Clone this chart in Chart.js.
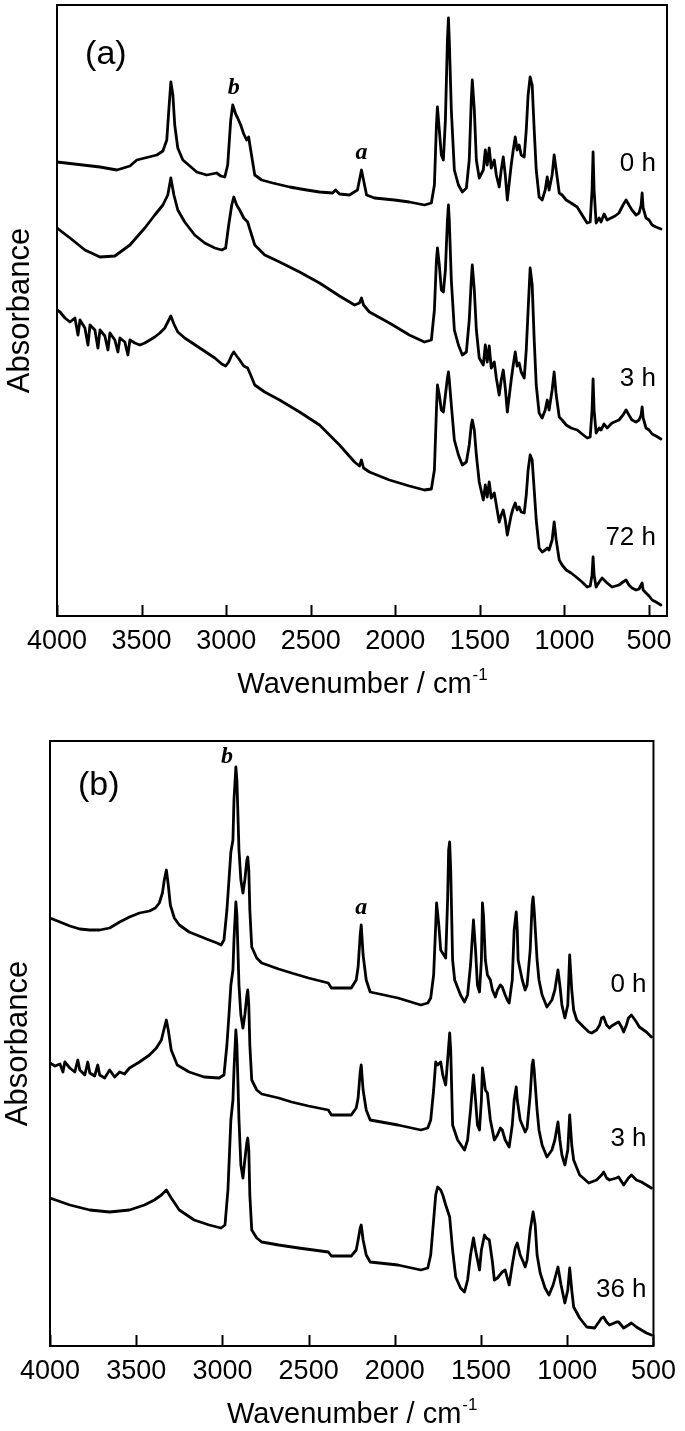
<!DOCTYPE html>
<html>
<head>
<meta charset="utf-8">
<script src="https://cdn.jsdelivr.net/npm/chart.js@4.4.1/dist/chart.umd.min.js"></script>
<style>
  html, body { margin: 0; padding: 0; background: #fff; }
  .panel { position: absolute; left: 0; width: 685px; }
  #wrapA { top: 0; height: 720px; }
  #wrapB { top: 720px; height: 711px; }
</style>
</head>
<body>
<div class="panel" id="wrapA"><canvas id="chartA" width="685" height="720"></canvas></div>
<div class="panel" id="wrapB"><canvas id="chartB" width="685" height="711"></canvas></div>
<script>
// FTIR spectra: [wavenumber (cm-1), absorbance (a.u., curves offset)]
// panel (a)
const a0h = [[4000,454],[3847,451],[3746,449],[3646,446],[3569,450],[3528,456],[3481,458],[3410,461],[3374,465],[3351,476],[3339,506],[3327,534],[3315,521],[3304,491],[3286,468],[3256,456],[3215,450],[3174,444],[3115,441],[3056,443],[3032,440],[3008,439],[2991,451],[2973,496],[2961,511],[2944,502],[2932,498],[2914,491],[2896,482],[2879,476],[2867,479],[2855,466],[2831,441],[2790,436],[2725,433],[2625,429],[2524,426],[2448,424],[2371,423],[2353,426],[2330,422],[2271,421],[2224,426],[2206,441],[2200,446],[2188,436],[2170,421],[2123,418],[2005,416],[1917,414],[1828,411],[1787,413],[1769,431],[1757,491],[1751,509],[1740,486],[1728,461],[1716,456],[1704,496],[1692,576],[1686,598],[1681,576],[1669,506],[1651,446],[1627,431],[1604,424],[1580,428],[1563,456],[1551,516],[1545,536],[1533,506],[1521,456],[1504,438],[1480,446],[1468,466],[1457,451],[1445,468],[1433,448],[1415,456],[1403,441],[1386,429],[1374,446],[1362,459],[1350,441],[1338,416],[1315,451],[1303,466],[1291,479],[1280,466],[1268,471],[1256,461],[1238,459],[1226,486],[1215,521],[1203,539],[1191,531],[1179,486],[1167,446],[1150,419],[1132,416],[1114,426],[1102,439],[1091,426],[1073,441],[1061,461],[1049,446],[1031,423],[1014,421],[990,416],[961,413],[925,409],[896,401],[866,393],[848,394],[837,426],[831,464],[825,426],[813,393],[795,398],[784,394],[766,402],[748,396],[725,398],[701,400],[678,403],[654,411],[636,416],[619,411],[601,406],[577,401],[559,403],[547,411],[541,423],[535,408],[518,398],[500,396],[482,391],[459,389],[430,387]];

const a3h = [[4000,388],[3923,378],[3835,366],[3746,359],[3658,360],[3569,371],[3481,388],[3422,401],[3374,411],[3345,421],[3327,438],[3309,421],[3286,406],[3245,394],[3186,381],[3127,373],[3067,368],[3026,366],[3003,368],[2985,391],[2967,411],[2955,419],[2938,411],[2920,406],[2896,398],[2873,394],[2855,384],[2831,371],[2772,361],[2684,354],[2566,344],[2448,333],[2330,320],[2241,311],[2212,313],[2200,318],[2188,311],[2153,304],[2035,293],[1917,281],[1828,274],[1787,276],[1769,306],[1757,356],[1751,368],[1740,351],[1728,326],[1716,324],[1704,346],[1692,396],[1686,411],[1681,396],[1669,336],[1651,286],[1627,271],[1604,261],[1580,264],[1563,296],[1551,336],[1545,351],[1533,326],[1521,286],[1504,258],[1480,251],[1468,271],[1457,254],[1445,270],[1433,248],[1415,254],[1403,238],[1386,221],[1374,236],[1362,246],[1350,228],[1338,204],[1315,236],[1303,251],[1291,264],[1280,250],[1268,253],[1256,244],[1238,238],[1226,266],[1215,306],[1203,348],[1191,331],[1179,276],[1167,231],[1150,203],[1132,198],[1114,206],[1102,216],[1091,206],[1073,226],[1061,244],[1049,221],[1031,199],[1014,196],[990,191],[961,188],[925,186],[896,182],[866,178],[848,179],[837,206],[831,237],[825,206],[813,183],[795,188],[784,186],[766,192],[748,188],[719,193],[678,196],[654,201],[636,206],[619,201],[601,196],[577,194],[559,196],[547,201],[541,209],[535,198],[518,188],[500,186],[482,182],[459,180],[430,177]];

const a72h = [[4000,306],[3982,304],[3953,298],[3923,294],[3894,298],[3876,281],[3864,296],[3835,288],[3817,271],[3805,291],[3776,286],[3758,268],[3746,286],[3717,280],[3699,266],[3687,283],[3658,276],[3640,264],[3628,278],[3599,274],[3581,261],[3569,276],[3540,273],[3510,271],[3481,273],[3451,276],[3422,279],[3392,283],[3363,288],[3345,294],[3327,300],[3309,292],[3286,284],[3245,278],[3156,268],[3067,258],[3026,252],[3003,250],[2985,254],[2967,261],[2955,264],[2938,260],[2920,256],[2896,250],[2873,248],[2855,241],[2831,231],[2772,224],[2684,216],[2566,204],[2448,191],[2330,171],[2241,154],[2212,150],[2200,156],[2188,148],[2153,144],[2035,136],[1917,130],[1828,126],[1787,127],[1769,146],[1757,206],[1751,231],[1740,221],[1728,206],[1716,204],[1704,221],[1692,238],[1686,244],[1681,236],[1669,211],[1651,176],[1627,161],[1604,151],[1580,154],[1563,171],[1551,191],[1545,196],[1533,186],[1521,161],[1504,134],[1480,116],[1468,131],[1457,119],[1445,134],[1433,118],[1415,123],[1403,111],[1386,94],[1374,101],[1362,106],[1350,96],[1338,81],[1315,101],[1303,108],[1291,113],[1280,106],[1268,109],[1256,104],[1238,103],[1226,121],[1215,146],[1203,161],[1191,156],[1179,126],[1167,96],[1150,68],[1132,64],[1114,66],[1102,68],[1091,66],[1073,76],[1061,94],[1049,76],[1031,56],[1014,51],[990,46],[961,43],[931,39],[896,34],[866,29],[848,30],[837,41],[831,59],[825,41],[813,29],[795,34],[778,38],[748,33],[719,29],[678,31],[654,34],[636,36],[619,31],[601,28],[577,26],[559,27],[547,31],[541,33],[535,26],[518,23],[500,20],[482,16],[459,14],[430,11]];

// panel (b)
const b0h = [[4000,428],[3942,424],[3885,420],[3827,417],[3769,416],[3712,416],[3654,418],[3596,424],[3539,429],[3481,433],[3423,435],[3389,438],[3366,443],[3348,453],[3337,466],[3325,476],[3314,461],[3302,441],[3279,428],[3250,421],[3193,414],[3135,410],[3077,406],[3031,403],[3008,401],[2991,406],[2974,436],[2962,466],[2951,494],[2939,506],[2933,546],[2922,579],[2916,566],[2904,496],[2893,466],[2881,453],[2870,466],[2858,486],[2853,489],[2847,476],[2841,436],[2830,399],[2801,388],[2772,383],[2674,377],[2599,373],[2501,368],[2386,363],[2368,358],[2253,358],[2224,366],[2213,379],[2201,411],[2195,421],[2184,391],[2166,366],[2143,354],[1982,348],[1849,341],[1809,343],[1792,348],[1775,371],[1763,421],[1758,443],[1745,421],[1734,396],[1705,388],[1694,446],[1688,496],[1682,504],[1676,476],[1665,386],[1653,366],[1619,351],[1596,344],[1578,351],[1561,381],[1544,426],[1532,396],[1521,361],[1509,354],[1498,386],[1492,443],[1486,431],[1475,386],[1463,371],[1446,366],[1434,356],[1417,349],[1405,356],[1388,361],[1377,359],[1360,351],[1348,346],[1337,343],[1319,366],[1308,416],[1296,434],[1290,416],[1285,386],[1273,376],[1261,366],[1244,356],[1233,361],[1215,396],[1204,441],[1198,449],[1192,436],[1175,386],[1164,366],[1146,351],[1118,339],[1089,346],[1072,356],[1054,376],[1043,361],[1031,341],[1014,328],[997,341],[986,391],[974,356],[963,336],[945,326],[905,319],[875,314],[858,313],[830,316],[812,321],[801,328],[789,329],[772,321],[755,318],[743,320],[714,323],[702,324],[685,319],[673,314],[657,321],[645,328],[628,331],[599,324],[582,319],[541,314],[512,309]];

const b3h = [[4000,283],[3971,280],[3942,282],[3925,274],[3914,284],[3885,278],[3856,274],[3839,286],[3827,276],[3798,271],[3781,284],[3769,273],[3741,270],[3723,281],[3712,271],[3683,268],[3654,276],[3625,269],[3596,274],[3568,272],[3539,278],[3481,284],[3423,291],[3383,298],[3354,306],[3337,318],[3325,326],[3314,316],[3297,296],[3262,281],[3193,274],[3106,269],[3020,268],[2991,271],[2974,301],[2962,331],[2951,361],[2939,376],[2933,406],[2922,444],[2916,431],[2904,361],[2893,331],[2881,318],[2870,331],[2858,351],[2853,356],[2847,341],[2841,301],[2830,266],[2801,256],[2772,252],[2674,248],[2599,244],[2501,240],[2386,236],[2368,231],[2253,231],[2224,238],[2213,248],[2201,274],[2195,281],[2184,256],[2166,236],[2143,226],[1982,221],[1849,216],[1809,218],[1792,226],[1775,256],[1763,284],[1752,281],[1734,284],[1722,271],[1705,261],[1694,286],[1682,313],[1676,296],[1665,221],[1636,206],[1596,196],[1578,206],[1561,236],[1544,271],[1532,246],[1521,221],[1509,216],[1498,246],[1492,278],[1486,271],[1475,256],[1463,253],[1446,226],[1423,206],[1405,211],[1388,218],[1377,216],[1360,206],[1337,199],[1319,221],[1308,246],[1296,259],[1290,246],[1273,226],[1244,214],[1233,218],[1215,251],[1204,281],[1198,286],[1192,276],[1175,236],[1164,216],[1146,201],[1118,189],[1089,196],[1072,206],[1054,224],[1043,206],[1031,191],[1014,181],[997,196],[986,231],[974,201],[963,186],[928,171],[875,163],[830,166],[801,171],[789,174],[772,168],[755,166],[714,168],[702,169],[673,161],[645,168],[628,171],[599,166],[570,164],[541,161],[512,158]];

const b36h = [[4000,148],[3885,141],[3769,136],[3654,134],[3539,136],[3452,141],[3395,146],[3354,151],[3325,156],[3297,148],[3250,136],[3164,126],[3077,121],[3008,118],[2985,121],[2968,156],[2951,226],[2939,246],[2933,276],[2922,316],[2916,301],[2904,226],[2893,181],[2881,168],[2870,186],[2858,204],[2853,208],[2847,196],[2841,151],[2830,116],[2801,108],[2772,104],[2674,101],[2558,98],[2386,94],[2368,90],[2253,90],[2224,96],[2213,106],[2201,118],[2195,121],[2184,106],[2166,91],[2143,84],[1982,81],[1849,76],[1809,78],[1792,91],[1775,126],[1763,151],[1752,159],[1734,156],[1722,151],[1705,141],[1682,129],[1665,96],[1647,69],[1619,58],[1596,54],[1578,66],[1561,91],[1544,108],[1532,96],[1509,76],[1498,96],[1480,111],[1469,108],[1452,106],[1434,84],[1423,66],[1405,68],[1377,74],[1360,76],[1348,68],[1337,61],[1319,81],[1302,98],[1290,103],[1273,91],[1255,84],[1244,79],[1233,86],[1215,116],[1198,134],[1186,121],[1175,91],[1157,73],[1129,58],[1106,51],[1082,61],[1054,79],[1036,61],[1014,43],[997,56],[986,78],[974,56],[963,39],[928,28],[887,19],[841,18],[817,24],[801,28],[789,29],[772,24],[755,21],[714,24],[702,24],[673,18],[645,21],[628,23],[599,19],[570,16],[541,13],[512,11]];

const xTicks = [4000, 3500, 3000, 2500, 2000, 1500, 1000, 500];
const timesA = ["0 h", "3 h", "72 h"];
const timesB = ["0 h", "3 h", "36 h"];

const SANS = '"Liberation Sans", Arial, sans-serif';
const SERIF = '"Liberation Serif", "Times New Roman", serif';

// frame, inward ticks, text notes and the x title (with superscript)
const decor = {
  id: 'decor',
  afterDraw(chart, args, opts) {
    const { ctx, chartArea: ca, scales: { x, y } } = chart;
    ctx.save();
    ctx.strokeStyle = '#000';
    ctx.lineWidth = 2;
    ctx.strokeRect(ca.left, ca.top, ca.right - ca.left, ca.bottom - ca.top);
    ctx.beginPath();
    x.ticks.forEach(t => {
      const px = Math.round(x.getPixelForValue(t.value)) + 0.5;
      ctx.moveTo(px, ca.bottom);
      ctx.lineTo(px, ca.bottom - 11);
    });
    ctx.stroke();

    ctx.fillStyle = '#000';
    ctx.textBaseline = 'middle';
    opts.notes.forEach(n => {
      ctx.font = n.font;
      ctx.textAlign = n.align || 'center';
      ctx.fillText(n.text, x.getPixelForValue(n.x), y.getPixelForValue(n.y));
    });

    // x axis title
    const cx = (ca.left + ca.right) / 2;
    const base = ca.bottom + opts.titleGap;
    ctx.textBaseline = 'alphabetic';
    ctx.textAlign = 'left';
    ctx.font = '29px ' + SANS;
    const w1 = ctx.measureText('Wavenumber / cm').width;
    ctx.font = '17px ' + SANS;
    const w2 = ctx.measureText('-1').width;
    const x0 = cx - (w1 + w2) / 2;
    ctx.font = '29px ' + SANS;
    ctx.fillText('Wavenumber / cm', x0, base);
    ctx.font = '17px ' + SANS;
    ctx.fillText('-1', x0 + w1 + 1, base - 13);
    ctx.restore();
  }
};

function line(data) {
  return {
    data: data,
    showLine: true,
    borderColor: '#000',
    borderWidth: 2.8,
    borderJoinStyle: 'round',
    borderCapStyle: 'round',
    pointRadius: 0,
    fill: false,
    tension: 0
  };
}

function makeChart(id, series, opt) {
  return new Chart(document.getElementById(id), {
    type: 'scatter',
    data: { datasets: series.map(line) },
    plugins: [decor],
    options: {
      responsive: false,
      animation: false,
      devicePixelRatio: 1,
      layout: { padding: opt.padding },
      plugins: {
        legend: { display: false },
        tooltip: { enabled: false },
        decor: { notes: opt.notes, titleGap: opt.titleGap }
      },
      scales: {
        x: {
          type: 'linear',
          reverse: true,
          min: opt.xMin,
          max: 4000,
          grid: { display: false, drawTicks: false },
          border: { display: false },
          ticks: {
            color: '#000',
            font: { size: 27, family: SANS },
            padding: 9,
            maxRotation: 0,
            autoSkip: false,
            callback: v => String(v)
          },
          afterBuildTicks: s => { s.ticks = xTicks.map(v => ({ value: v })); },
          afterFit: s => { s.height = opt.xHeight; }
        },
        y: {
          min: 0,
          max: opt.yMax,
          grid: { display: false, drawTicks: false },
          border: { display: false },
          ticks: { display: false },
          title: {
            display: true,
            text: 'Absorbance',
            color: '#000',
            font: { size: 31, family: SANS },
            padding: { top: opt.yTitlePad, bottom: 0 }
          },
          afterFit: s => { s.width = opt.yWidth; }
        }
      }
    }
  });
}

const tag = '34px ' + SANS;
const peak = 'italic bold 24px ' + SERIF;
const time = '26px ' + SANS;

makeChart('chartA', [a0h, a3h, a72h], {
  padding: { top: 5, right: 18, left: 0, bottom: 0 },
  xMin: 394, yMax: 611, xHeight: 104, yWidth: 57, yTitlePad: 2, titleGap: 77,
  notes: [
    { text: '(a)', x: 3711, y: 561, font: tag },
    { text: 'b', x: 2955, y: 528, font: peak },
    { text: 'a', x: 2200, y: 463, font: peak },
    { text: timesA[0], x: 459, y: 452, align: 'right', font: time },
    { text: timesA[1], x: 459, y: 237, align: 'right', font: time },
    { text: timesA[2], x: 459, y: 78, align: 'right', font: time }
  ]
});

makeChart('chartB', [b0h, b3h, b36h], {
  padding: { top: 21, right: 28, left: 0, bottom: 0 },
  xMin: 500, yMax: 605, xHeight: 85, yWidth: 50, yTitlePad: 0, titleGap: 77,
  notes: [
    { text: '(b)', x: 3717, y: 560, font: tag },
    { text: 'b', x: 2974, y: 589, font: peak },
    { text: 'a', x: 2195, y: 438, font: peak },
    { text: timesB[0], x: 540, y: 361, align: 'right', font: time },
    { text: timesB[1], x: 540, y: 207, align: 'right', font: time },
    { text: timesB[2], x: 540, y: 56, align: 'right', font: time }
  ]
});
</script>
</body>
</html>
